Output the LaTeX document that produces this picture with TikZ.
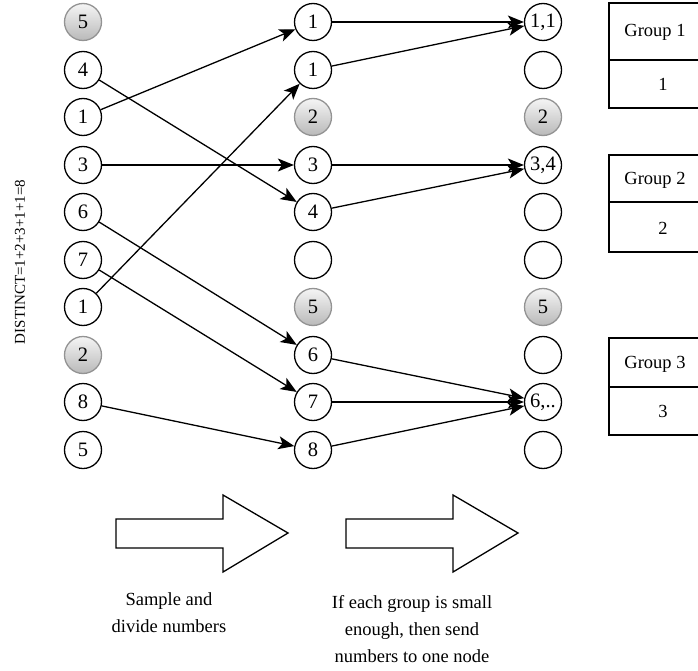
\documentclass[tikz,border=0pt]{standalone}
\usepackage{fontspec}
\setmainfont{Liberation Serif}
\usetikzlibrary{arrows.meta}

\begin{document}
\begin{tikzpicture}[x=1pt,y=-1pt]
\tikzstyle{every node}+=[font=\fontsize{18.5}{27}\selectfont]
\tikzstyle{num}=[draw,circle,line width=1.3pt,minimum size=37pt,inner sep=0pt,font=\fontsize{20.5}{22}\selectfont]
\tikzstyle{skip}=[num,draw=gray!85,top color=gray!8,bottom color=gray!55]
\tikzstyle{link}=[-{Stealth[length=16pt,width=13pt,inset=4pt]},line width=1.3pt]
\tikzstyle{bigarrow}=[draw,line width=1.3pt,line join=miter]
\useasboundingbox (0,0) rectangle (698,671);
% input numbers
\node[skip] (a1) at (83,22) {5};
\node[num] (a2) at (83,70) {4};
\node[num] (a3) at (83,117) {1};
\node[num] (a4) at (83,165) {3};
\node[num] (a5) at (83,212) {6};
\node[num] (a6) at (83,260) {7};
\node[num] (a7) at (83,307) {1};
\node[skip] (a8) at (83,355) {2};
\node[num] (a9) at (83,402) {8};
\node[num] (a10) at (83,450) {5};
% divided numbers
\node[num] (b1) at (313,22) {1};
\node[num] (b2) at (313,70) {1};
\node[skip] (b3) at (313,117) {2};
\node[num] (b4) at (313,165) {3};
\node[num] (b5) at (313,212) {4};
\node[num] (b6) at (313,260) {};
\node[skip] (b7) at (313,307) {5};
\node[num] (b8) at (313,355) {6};
\node[num] (b9) at (313,402) {7};
\node[num] (b10) at (313,450) {8};
% target nodes
\node[num] (c1) at (543,22) {1,1};
\node[num] (c2) at (543,70) {};
\node[skip] (c3) at (543,117) {2};
\node[num] (c4) at (543,165) {3,4};
\node[num] (c5) at (543,212) {};
\node[num] (c6) at (543,260) {};
\node[skip] (c7) at (543,307) {5};
\node[num] (c8) at (543,355) {};
\node[num] (c9) at (543,402) {6,..};
\node[num] (c10) at (543,450) {};
% sampling
\draw[link] (a2) -- (b5);
\draw[link] (a3) -- (b1);
\draw[link] (a4) -- (b4);
\draw[link] (a5) -- (b8);
\draw[link] (a6) -- (b9);
\draw[link] (a7) -- (b2);
\draw[link] (a9) -- (b10);
% sending
\draw[link] (b1) -- (c1);
\draw[link] (b2) -- (c1);
\draw[link] (b4) -- (c4);
\draw[link] (b5) -- (c4);
\draw[link] (b8) -- (c9);
\draw[link] (b9) -- (c9);
\draw[link] (b10) -- (c9);
% groups
\draw[line width=1.3pt] (609,3) rectangle (720,108);
\draw[line width=1.3pt] (609,60) -- (720,60);
\node (g1) at (655,32) {Group 1};
\node (n1) at (663,84) {1};
\draw[line width=1.3pt] (609,155) rectangle (720,252);
\draw[line width=1.3pt] (609,202) -- (720,202);
\node (g2) at (655,180) {Group 2};
\node (n2) at (663,228) {2};
\draw[line width=1.3pt] (609,338) rectangle (720,435);
\draw[line width=1.3pt] (609,387) -- (720,387);
\node (g3) at (655,364) {Group 3};
\node (n3) at (663,411) {3};
% sum
\node[rotate=90,font=\fontsize{15}{18}\selectfont] (sum) at (20,262) {DISTINCT=1+2+3+1+1=8};
% steps
\draw[bigarrow] (116,519) -- (223,519) -- (223,495) -- (288,533) -- (223,572) -- (223,548) -- (116,548) -- cycle;
\draw[bigarrow] (346,519) -- (453,519) -- (453,495) -- (518,533) -- (453,572) -- (453,548) -- (346,548) -- cycle;
\node[align=center] (step1) at (169,613) {Sample and\\divide numbers};
\node[align=center] (step2) at (412,629) {If each group is small\\enough, then send\\numbers to one node};
\end{tikzpicture}
\end{document}
